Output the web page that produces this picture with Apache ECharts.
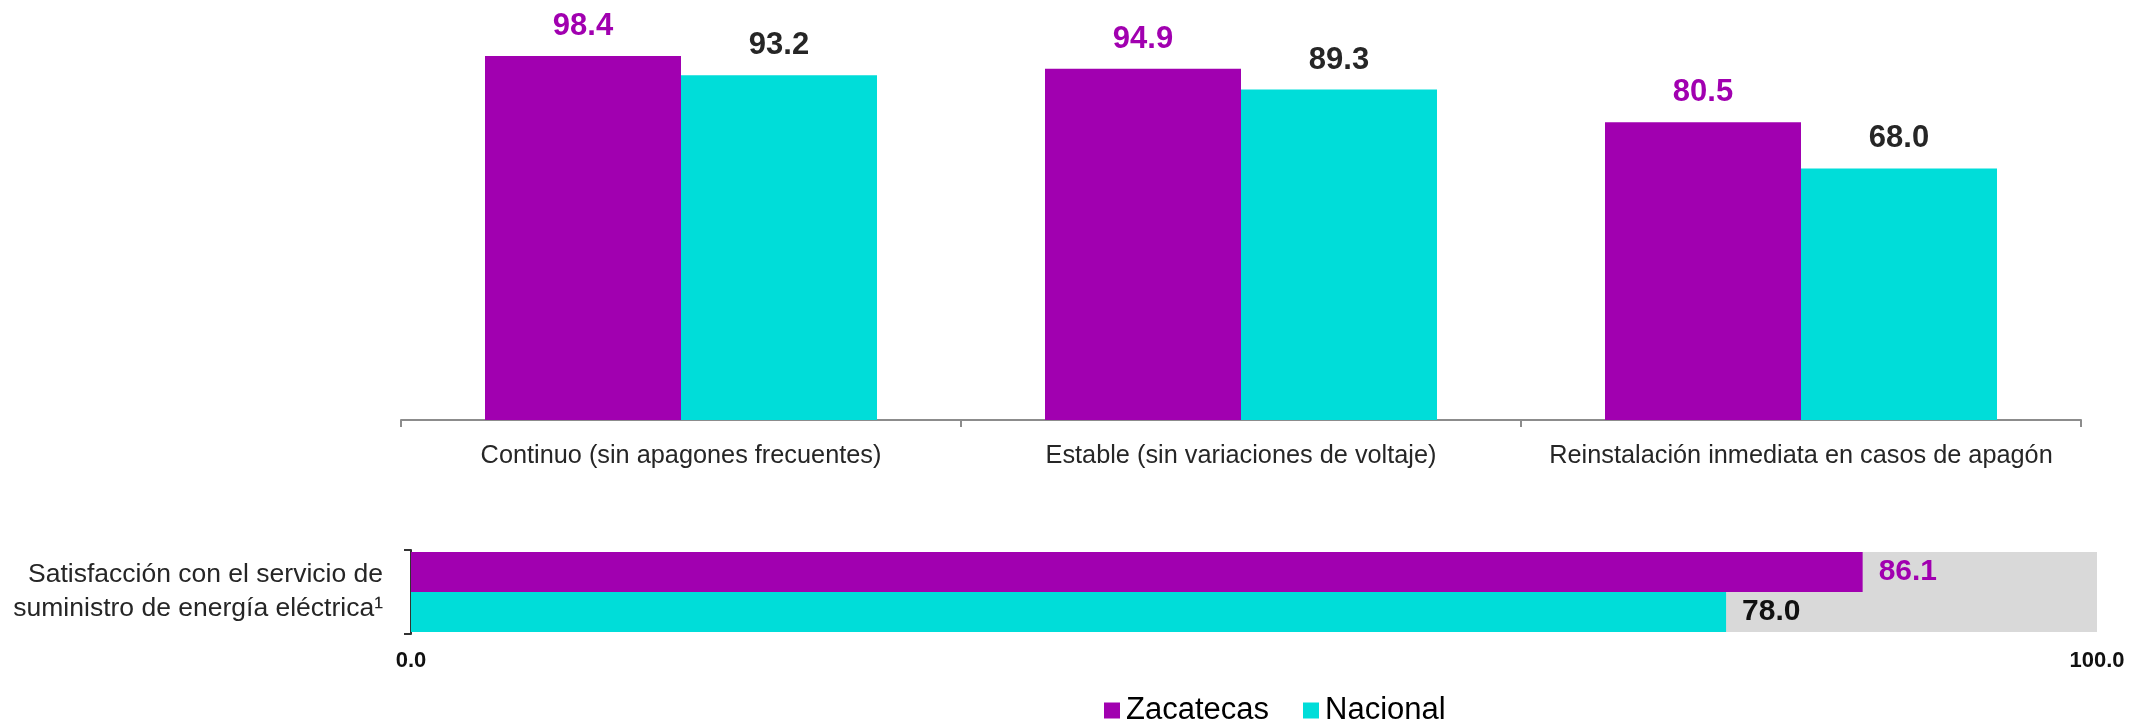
<!DOCTYPE html>
<html>
<head>
<meta charset="utf-8">
<script src="https://cdn.jsdelivr.net/npm/echarts@6/dist/echarts.min.js"></script>
<style>
html,body{margin:0;padding:0;background:#fff;}
#chart{width:2141px;height:720px;}
</style>
</head>
<body>
<div id="chart"></div>
<script>
const seriesNames = ['Zacatecas', 'Nacional'];
const categories = ['Continuo (sin apagones frecuentes)', 'Estable (sin variaciones de voltaje)', 'Reinstalación inmediata en casos de apagón'];
const zacatecas = [98.4, 94.9, 80.5];
const nacional = [93.2, 89.3, 68.0];
const satisfCategory = ['Satisfacción con el servicio de\nsuministro de energía eléctrica¹'];
const satisfZacatecas = [86.1];
const satisfNacional = [78.0];
const satisfTicks = [0, 100];

const PURPLE = '#A100B0';
const CYAN = '#00DDD9';
const TEXT = '#262626';
const FONT = '"Liberation Sans", Arial, sans-serif';
const fmt = p => Number(p.value).toFixed(1);

const chart = echarts.init(document.getElementById('chart'));
chart.setOption({
  animation: false,
  textStyle: { fontFamily: FONT },
  legend: {
    data: seriesNames,
    left: 1099, top: 690,
    icon: 'rect', itemWidth: 16, itemHeight: 16, itemGap: 34,
    textStyle: { fontSize: 31, color: '#000', fontFamily: FONT, padding: [0, 0, 0, 1] }
  },
  grid: [
    { left: 401, top: 50, width: 1680, height: 370 },
    { left: 411, top: 550, width: 1686, height: 84 }
  ],
  xAxis: [
    {
      gridIndex: 0, type: 'category', data: categories,
      axisLine: { lineStyle: { color: '#8c8c8c', width: 2 } },
      axisTick: { show: true, interval: 0, length: 7, lineStyle: { color: '#8c8c8c', width: 2 } },
      axisLabel: { interval: 0, fontSize: 25.3, color: TEXT, margin: 24, fontFamily: FONT }
    },
    {
      gridIndex: 1, type: 'value', min: satisfTicks[0], max: satisfTicks[1], interval: 100,
      splitLine: { show: false }, axisLine: { show: false }, axisTick: { show: false },
      axisLabel: { fontSize: 22, fontWeight: 'bold', color: '#111', margin: 16, fontFamily: FONT,
                   formatter: v => v.toFixed(1) }
    }
  ],
  yAxis: [
    { gridIndex: 0, type: 'value', min: 0, max: 100, show: false },
    {
      gridIndex: 1, type: 'category', data: satisfCategory,
      axisLine: { show: true, lineStyle: { color: '#333', width: 2 } },
      axisTick: { show: true, length: 7, lineStyle: { color: '#333', width: 2 } },
      axisLabel: { fontSize: 26.5, color: TEXT, margin: 28, lineHeight: 34, align: 'right', fontFamily: FONT }
    }
  ],
  series: [
    {
      name: seriesNames[0], type: 'bar', xAxisIndex: 0, yAxisIndex: 0, data: zacatecas,
      barWidth: 196, barGap: '0%', itemStyle: { color: PURPLE },
      label: { show: true, position: 'top', distance: 14, formatter: fmt,
               fontSize: 31, fontWeight: 'bold', color: PURPLE, fontFamily: FONT }
    },
    {
      name: seriesNames[1], type: 'bar', xAxisIndex: 0, yAxisIndex: 0, data: nacional,
      barWidth: 196, barGap: '0%', itemStyle: { color: CYAN },
      label: { show: true, position: 'top', distance: 14, formatter: fmt,
               fontSize: 31, fontWeight: 'bold', color: TEXT, fontFamily: FONT }
    },
    {
      name: seriesNames[0], type: 'bar', xAxisIndex: 1, yAxisIndex: 1, data: satisfZacatecas,
      barWidth: 40, barGap: '0%', itemStyle: { color: PURPLE },
      showBackground: true, backgroundStyle: { color: '#D9D9D9' },
      label: { show: true, position: 'right', distance: 16, formatter: fmt,
               fontSize: 30, fontWeight: 'bold', color: PURPLE, fontFamily: FONT }
    },
    {
      name: seriesNames[1], type: 'bar', xAxisIndex: 1, yAxisIndex: 1, data: satisfNacional,
      barWidth: 40, barGap: '0%', itemStyle: { color: CYAN },
      showBackground: true, backgroundStyle: { color: '#D9D9D9' },
      label: { show: true, position: 'right', distance: 16, formatter: fmt,
               fontSize: 30, fontWeight: 'bold', color: '#111', fontFamily: FONT }
    }
  ]
});
</script>
</body>
</html>
